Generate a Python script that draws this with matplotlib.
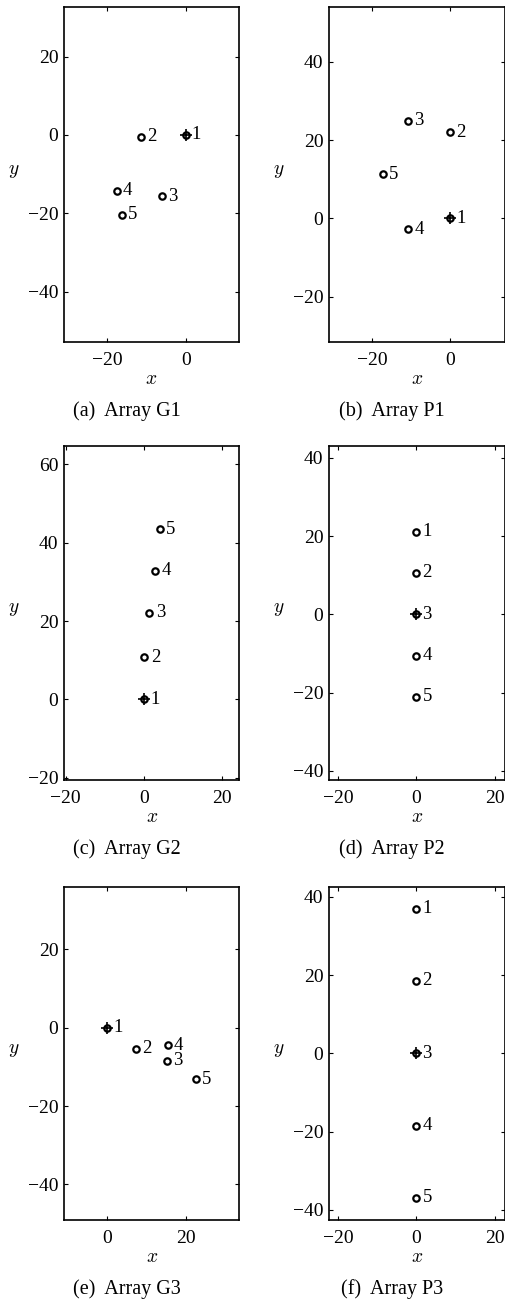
import numpy as np
import matplotlib
matplotlib.use('Agg')
import matplotlib.pyplot as plt

plt.rcParams['font.family'] = ['Liberation Serif', 'DejaVu Serif']
plt.rcParams['mathtext.fontset'] = 'cm'
plt.rcParams['font.size'] = 14

# sensor positions for each array (reference sensor sits at the origin)
g1_x = [0.0, -11.3, -6.0, -17.6, -16.2]
g1_y = [0.0, -0.4, -15.7, -14.3, -20.4]
p1_x = [0.0, 0.0, -10.8, -10.8, -17.2]
p1_y = [0.0, 22.0, 24.9, -2.8, 11.2]
g2_x = [0.0, 0.1, 1.4, 2.8, 4.1]
g2_y = [0.0, 10.7, 22.1, 32.8, 43.4]
p2_x = [0.0, 0.0, 0.0, 0.0, 0.0]
p2_y = [21.1, 10.6, 0.0, -10.6, -21.0]
g3_x = [0.0, 7.2, 15.1, 15.4, 22.5]
g3_y = [0.0, -5.4, -8.5, -4.5, -13.1]
p3_x = [0.0, 0.0, 0.0, 0.0, 0.0]
p3_y = [36.9, 18.5, 0.0, -18.5, -36.9]

sensor_ids = ['1', '2', '3', '4', '5']
ref_index = [0, 0, 0, 2, 0, 2]
captions = ['(a)  Array G1', '(b)  Array P1', '(c)  Array G2',
            '(d)  Array P2', '(e)  Array G3', '(f)  Array P3']

xlims = [(-31.0, 13.6), (-31.0, 13.9), (-20.4, 24.3),
         (-22.3, 22.6), (-11.0, 33.6), (-22.3, 22.6)]
ylims = [(-52.9, 32.7), (-31.6, 54.0), (-20.6, 64.8),
         (-42.3, 43.1), (-49.1, 36.0), (-42.6, 42.6)]
xticks = [[-20, 0], [-20, 0], [-20, 0, 20], [-20, 0, 20], [0, 20], [-20, 0, 20]]
yticks = [[-40, -20, 0, 20], [-20, 0, 20, 40], [-20, 0, 20, 40, 60],
          [-40, -20, 0, 20, 40], [-40, -20, 0, 20], [-40, -20, 0, 20, 40]]

all_x = [g1_x, p1_x, g2_x, p2_x, g3_x, p3_x]
all_y = [g1_y, p1_y, g2_y, p2_y, g3_y, p3_y]

W, H = 506, 1302
fig = plt.figure(figsize=(W / 100, H / 100), dpi=100)

# axes boxes in pixels: left, top, right, bottom
boxes = [(64, 7, 239, 342), (329, 7, 504.7, 342),
         (64, 445.7, 239.3, 780), (329, 445.7, 504.7, 780),
         (64, 886.7, 239.3, 1220), (329, 886.7, 504.7, 1220)]
# caption centre x and baseline y, pixels
caption_pos = [(127, 416), (392, 416), (127, 854), (392, 854), (127, 1294), (392, 1294)]

for i in range(6):
    l, t, r, b = boxes[i]
    ax = fig.add_axes([l / W, 1 - b / H, (r - l) / W, (b - t) / H])
    x = np.array(all_x[i])
    y = np.array(all_y[i])
    ax.plot(x, y, 'o', ms=4.6, mfc='none', mec='k', mew=1.6)
    # reference sensor gets a cross on top of its circle
    k = ref_index[i]
    ax.plot(x[k], y[k], '+', ms=8, mec='k', mew=1.2)
    for xi, yi, s in zip(x, y, sensor_ids):
        ax.annotate(s, (xi, yi), xytext=(4.5, 0), textcoords='offset points',
                    va='center', ha='left', fontsize=13.5)
    ax.set_xlim(*xlims[i])
    ax.set_ylim(*ylims[i])
    ax.set_xticks(xticks[i])
    ax.set_yticks(yticks[i])
    ax.tick_params(direction='in', length=3, width=0.8, top=True, right=True,
                   labelsize=14)
    ax.tick_params(axis='x', pad=7.5)
    ax.tick_params(axis='y', pad=4)
    for sp in ax.spines.values():
        sp.set_linewidth(1.2)
    ax.set_xlabel('$x$', fontsize=14, va='center')
    ax.set_ylabel('$y$', fontsize=14, rotation=0, va='center', ha='center')
    ax.xaxis.set_label_coords(0.5, -38 / (b - t))
    ax.yaxis.set_label_coords(-50 / (r - l), 0.51)
    cx, cy = caption_pos[i]
    fig.text(cx / W, 1 - cy / H, captions[i], ha='center', va='baseline', fontsize=14.5)

fig.savefig('out.png', dpi=100)
